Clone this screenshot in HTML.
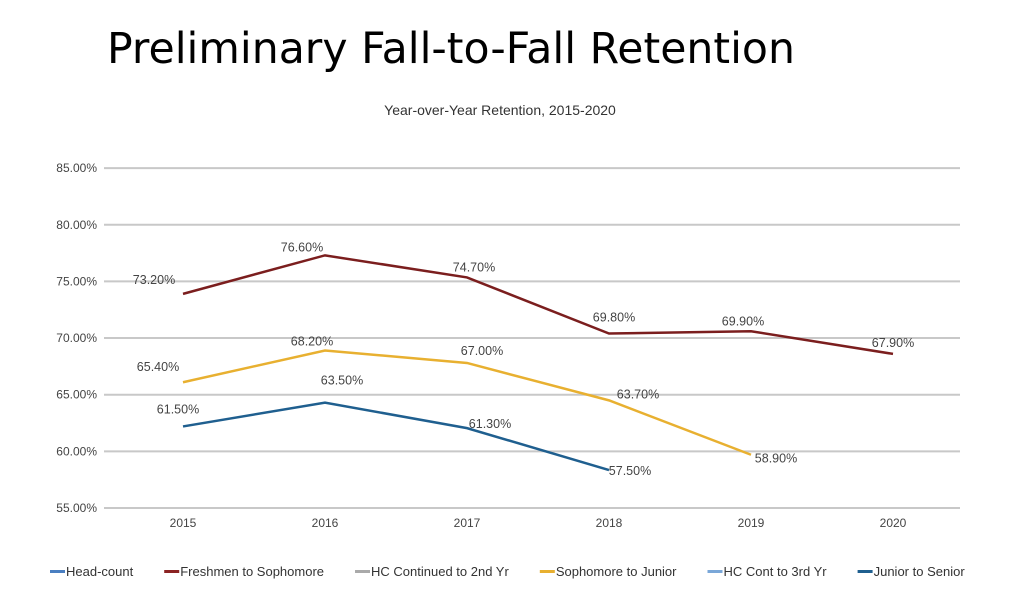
<!DOCTYPE html>
<html><head><meta charset="utf-8"><style>
body{margin:0;background:#fff;width:1022px;height:612px;overflow:hidden;font-family:"Liberation Sans",sans-serif}
h1{position:absolute;left:107px;top:24px;margin:0;font-weight:normal;font-size:42.6px;color:#000;font-family:"DejaVu Sans","Liberation Sans",sans-serif}
</style></head><body>
<h1>Preliminary Fall-to-Fall Retention</h1>
<svg id="c" width="1022" height="612" style="position:absolute;left:0;top:0"></svg>
<script>
const years=["2015","2016","2017","2018","2019","2020"];
const ticks=[55,60,65,70,75,80,85];
const freshVals=[73.9,77.3,75.35,70.4,70.6,68.6];
const freshLabels=["73.20%","76.60%","74.70%","69.80%","69.90%","67.90%"];
const sophVals=[66.1,68.9,67.8,64.5,59.7];
const sophLabels=["65.40%","68.20%","67.00%","63.70%","58.90%"];
const junVals=[62.2,64.3,62.05,58.35];
const junLabels=["61.50%","63.50%","61.30%","57.50%"];
const legendNames=["Head-count","Freshmen to Sophomore","HC Continued to 2nd Yr","Sophomore to Junior","HC Cont to 3rd Yr","Junior to Senior"];
const legendColors=["#4a7fc1","#8b2323","#aaaaaa","#e8b030","#7aa7d8","#1f5f8f"];
// label offsets (pixels, style only)
const freshDx=[-29,-23,7,5,-8,0], freshDy=[-10,-4,-6,-12,-6,-7];
const sophDx=[-25,-13,15,29,25], sophDy=[-11,-5,-8,-2,8];
const junDx=[-5,17,23,21], junDy=[-13,-18,0,5];
const svg=document.getElementById('c');const NS="http://www.w3.org/2000/svg";
const x=i=>183+i*142;const y=v=>508-(v-55)*11.33;
function mk(t,a,txt){const e=document.createElementNS(NS,t);for(const k in a)e.setAttribute(k,a[k]);if(txt!==undefined)e.textContent=txt;svg.appendChild(e);return e;}
let t=mk('text',{x:500,y:115,'text-anchor':'middle','font-size':14,fill:'#333'},'Year-over-Year Retention, 2015-2020');


ticks.forEach(v=>{let l=mk('line',{x1:104,x2:960,y1:y(v),y2:y(v),stroke:'#c8c8c8','stroke-width':2});


let tt=mk('text',{x:97,y:y(v)+4,'text-anchor':'end','font-size':12,fill:'#444'},v.toFixed(2)+'%');

});
years.forEach((yr,i)=>{let tt=mk('text',{x:x(i),y:527,'text-anchor':'middle','font-size':12,fill:'#444'},yr);

});
function series(vals,labels,dx,dy,color,name){
let p=mk('polyline',{points:vals.map((v,i)=>x(i)+','+y(v)).join(' '),fill:'none',stroke:color,'stroke-width':2.5});


vals.forEach((v,i)=>{let l=mk('text',{x:x(i)+dx[i],y:y(v)+dy[i],'text-anchor':'middle','font-size':12.5,fill:'#444'},labels[i]);

});}
series(freshVals,freshLabels,freshDx,freshDy,'#7b1e1e','freshmen-to-sophomore');
series(sophVals,sophLabels,sophDx,sophDy,'#e8b030','sophomore-to-junior');
series(junVals,junLabels,junDx,junDy,'#1f5f8f','junior-to-senior');
let lx=50;
legendNames.forEach((n,i)=>{let g=document.createElementNS(NS,'g');svg.appendChild(g);


const r=document.createElementNS(NS,'rect');r.setAttribute('x',lx);r.setAttribute('y',570);r.setAttribute('width',15);r.setAttribute('height',3);r.setAttribute('fill',legendColors[i]);g.appendChild(r);
const tx=document.createElementNS(NS,'text');tx.setAttribute('x',lx+16);tx.setAttribute('y',576);tx.setAttribute('font-size',13);tx.setAttribute('fill','#333');tx.textContent=n;g.appendChild(tx);
lx+=tx.getComputedTextLength()+47;});
</script>
</body></html>
